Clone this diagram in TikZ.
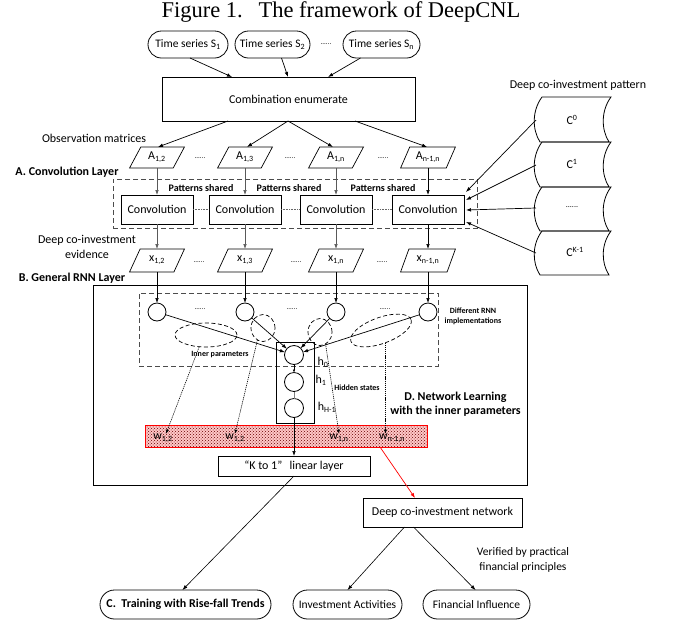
\documentclass[tikz,border=0pt]{standalone}
\usepackage{fontspec}
\setmainfont{Carlito}
\newfontfamily\titlefont{Liberation Serif}
\usetikzlibrary{arrows.meta,shapes.misc,shapes.geometric,patterns,calc}
\begin{document}
\begin{tikzpicture}[x=1pt,y=-1pt,
  every node/.style={inner sep=0pt, outer sep=0pt},
  txt/.style={font=\fontsize{12}{15}\selectfont},
  bx/.style={draw, line width=0.8pt, font=\fontsize{12}{14}\selectfont},
  pill/.style={draw, rounded rectangle, line width=0.8pt, minimum height=27pt, font=\fontsize{11.5}{13}\selectfont},
  para/.style={draw, trapezium, trapezium left angle=60, trapezium right angle=120, trapezium stretches=true, minimum width=55pt, minimum height=21pt, line width=0.7pt, font=\fontsize{12}{14}\selectfont},
  circ/.style={draw, circle, minimum size=18pt, line width=0.8pt},
  ell/.style={draw, ellipse, line width=0.7pt, dash pattern=on 4pt off 2.5pt},
  arr/.style={-{Latex[length=5pt,width=3.6pt]}, line width=0.7pt},
  garr/.style={arr, draw=black!65},
  darr/.style={-{Latex[length=4pt,width=3.2pt]}, line width=0.6pt, dash pattern=on 1.2pt off 0.9pt},
  dotsl/.style={font=\fontsize{7}{8}\selectfont},
  sbold/.style={font=\fontsize{8}{10}\selectfont\bfseries},
  mbold/.style={font=\fontsize{10}{12}\selectfont\bfseries},
  hd/.style={font=\fontsize{12}{14.5}\selectfont\bfseries},
  dbox/.style={draw=black!70, dash pattern=on 5pt off 3pt, line width=0.9pt},
  pattcell/.style={draw, line width=0.8pt},
]
\useasboundingbox (0,0) rectangle (678,622);

% title
\node (title) at (341,12) {\titlefont\fontsize{22.5}{24}\selectfont Figure 1.\hspace{0.7em}The framework of DeepCNL};

% time series
\node[pill, minimum width=80pt] (ts1) at (188,44.5) {Time series S\textsubscript{1}};
\node[pill, minimum width=75pt] (ts2) at (272.5,44.5) {Time series S\textsubscript{2}};
\node[pill, minimum width=77pt] (ts3) at (381.5,44.5) {Time series S\textsubscript{n}};
\node[dotsl] (tsd) at (326,44) {......};

% combination
\node[bx, minimum width=253pt, minimum height=44pt] (combo) at (288.5,99) {Combination enumerate};
\draw[arr] ([xshift=2pt]ts1.south) -- ([xshift=70pt]combo.north west);
\draw[arr] ([xshift=9pt]ts2.south) -- ([xshift=126pt]combo.north west);
\draw[arr] ([xshift=-21pt]ts3.south) -- ([xshift=166pt]combo.north west);

\node[txt] (obs) at (94,138) {Observation matrices};

% observation matrices
\node[para] (a1) at (157,157.5) {A\textsubscript{1,2}};
\node[para] (a2) at (245,157.5) {A\textsubscript{1,3}};
\node[para] (a3) at (336,157.5) {A\textsubscript{1,n}};
\node[para] (a4) at (428,157.5) {A\textsubscript{n-1,n}};
\node[dotsl] (ad1) at (200,158) {......};
\node[dotsl] (ad2) at (290,158) {......};
\node[dotsl] (ad3) at (383,158) {......};
\draw[arr] ([xshift=66pt]combo.south west) -- ($(a1.center |- a1.north)+(1,0)$);
\draw[arr] ([xshift=126pt]combo.south west) -- ($(a2.center |- a2.north)+(2,0)$);
\draw[arr] ([xshift=126pt]combo.south west) -- ($(a3.center |- a3.north)+(-3,0)$);
\draw[arr] ([xshift=193pt]combo.south west) -- ($(a4.center |- a4.north)+(-1,0)$);

% convolution layer
\node[hd] (lconv) at (67,172) {A. Convolution Layer};
\node[dbox, minimum width=364pt, minimum height=49pt] (convlayer) at (295,203.5) {};
\node[bx, minimum width=72pt, minimum height=29pt] (cv1) at (157,209.5) {Convolution};
\node[bx, minimum width=72pt, minimum height=29pt] (cv2) at (245,209.5) {Convolution};
\node[bx, minimum width=72pt, minimum height=29pt] (cv3) at (336,209.5) {Convolution};
\node[bx, minimum width=72pt, minimum height=29pt] (cv4) at (428,209.5) {Convolution};
\node[mbold] (ps1) at (201,188) {Patterns shared};
\node[mbold] (ps2) at (289,188) {Patterns shared};
\node[mbold] (ps3) at (383,188) {Patterns shared};
\draw[densely dotted, black!60, line width=0.6pt] (cv1.east) -- (cv2.west);
\draw[densely dotted, black!60, line width=0.6pt] (cv2.east) -- (cv3.west);
\draw[densely dotted, black!60, line width=0.6pt] (cv3.east) -- (cv4.west);
\draw[garr] (a1.center |- a1.south) -- (cv1.north);
\draw[garr] (a2.center |- a2.south) -- (cv2.north);
\draw[garr] (a3.center |- a3.south) -- (cv3.north);
\draw[arr] (a4.center |- a4.south) -- (cv4.north);

% evidence
\node[txt, align=center] (evid) at (87,246.5) {Deep co-investment\\evidence};
\node[para, minimum height=23pt] (x1) at (157,260.5) {x\textsubscript{1,2}};
\node[para, minimum height=23pt] (x2) at (245,260.5) {x\textsubscript{1,3}};
\node[para, minimum height=23pt] (x3) at (336,260.5) {x\textsubscript{1,n}};
\node[para, minimum height=23pt] (x4) at (428,260.5) {x\textsubscript{n-1,n}};
\node[dotsl] (xd1) at (199,262) {......};
\node[dotsl] (xd2) at (296,262) {......};
\node[dotsl] (xd3) at (382,262) {......};
\draw[garr] (cv1.south) -- (x1.center |- x1.north);
\draw[garr] (cv2.south) -- (x2.center |- x2.north);
\draw[garr] (cv3.south) -- (x3.center |- x3.north);
\draw[arr] (cv4.south) -- (x4.center |- x4.north);

% pattern
\node[txt] (lpat) at (578,85) {Deep co-investment pattern};
\foreach \ya/\yb in {97/142,142/187,187/231,231/275}{
  \pgfmathsetmacro\yc{\ya+0.3*(\yb-\ya)}
  \pgfmathsetmacro\yd{\ya+0.72*(\yb-\ya)}
  \draw[pattcell] (542,\ya) .. controls (532,\yc) and (532,\yd) .. (540,\yb) -- (609,\yb) .. controls (601,\yd) and (601,\yc) .. (611,\ya) -- cycle;
}
\node[txt] (cp0) at (572,120) {C\textsuperscript{0}};
\node[txt] (cp1) at (572,164) {C\textsuperscript{1}};
\node[dotsl, font=\fontsize{8}{9}\selectfont] (cpd) at (572,207) {......};
\node[txt] (cpk) at (575,252) {C\textsuperscript{K-1}};
\coordinate (pa0) at (536,120);
\coordinate (pa1) at (536,165);
\coordinate (pa2) at (536,208);
\coordinate (pa3) at (536,253);
\draw[arr] (pa0) -- ($(cv4.east)+(2,-17.5)$);
\draw[arr] (pa1) -- ($(cv4.east)+(2,-9.5)$);
\draw[arr] (pa2) -- ($(cv4.east)+(2,0.5)$);
\draw[arr] (pa3) -- ($(cv4.east)+(2,12.5)$);

% RNN layer
\node[hd] (lrnn) at (72,278) {B. General RNN Layer};
\node[draw, line width=0.9pt, minimum width=434pt, minimum height=200pt] (rnn) at (310,385) {};
\node[dbox, minimum width=299pt, minimum height=73pt] (rnnimpl) at (288.5,329.5) {};
\node[sbold, align=center] (ldiff) at (473,316.5) {Different RNN\\implementations};

\node[circ] (c1) at (157,312) {};
\node[circ] (c2) at (245,312) {};
\node[circ] (c3) at (336,312) {};
\node[circ] (c4) at (428,312) {};
\node[dotsl] (cd1) at (200,309) {......};
\node[dotsl] (cd2) at (292,309) {......};
\node[dotsl] (cd3) at (385,309) {......};
\draw[arr] (x1.center |- x1.south) -- (c1.north);
\draw[arr] (x2.center |- x2.south) -- (c2.north);
\draw[arr] (x3.center |- x3.south) -- (c3.north);
\draw[arr] (x4.center |- x4.south) -- (c4.north);

\node[ell, minimum width=62pt, minimum height=24pt] (e1) at (206,335) {};
\node[ell, minimum width=24pt, minimum height=27pt] (e2) at (263,328) {};
\node[ell, minimum width=24pt, minimum height=27pt] (e3) at (320,332) {};
\node[ell, minimum width=64pt, minimum height=26pt, rotate=20] (e4) at (381,330.5) {};
\node[sbold] (linner) at (220,355) {Inner parameters};

\node[draw, line width=0.9pt, minimum width=38pt, minimum height=81pt] (hbox) at (295,382.5) {};
\node[circ, minimum size=19pt] (h0) at (294,355) {};
\node[circ, minimum size=19pt] (h1) at (294,382) {};
\node[circ, minimum size=19pt] (hH) at (294,408) {};
\node[txt] (lh0) at (323,362) {h\textsubscript{0}};
\node[txt] (lh1) at (321,380) {h\textsubscript{1}};
\node[txt] (lhH) at (327,407) {h\textsubscript{H-1}};
\node[sbold] (lhid) at (357,388) {Hidden states};
\draw[-{Latex[length=3pt,width=2.5pt]}, line width=0.5pt] (h0) -- (h1);
\draw[black!50, line width=0.5pt] (h1) -- (hH);

\draw[arr] (c1) -- (h0);
\draw[arr] (c2) -- (h0);
\draw[arr] (c3) -- (h0);
\draw[arr] (c4) -- (h0);

\node[hd, align=center] (lnet) at (455.5,404) {D. Network Learning\\with the inner parameters};

% inner parameter band
\node[draw=red, line width=0.8pt, minimum width=282pt, minimum height=22pt, preaction={fill=red!22}, pattern=crosshatch dots, pattern color=red!40!black] (band) at (286,436) {};
\node[txt] (w1) at (163,438) {w\textsubscript{1,2}};
\node[txt] (w2) at (235,438) {w\textsubscript{1,2}};
\node[txt] (w3) at (339,438) {w\textsubscript{1,n}};
\node[txt] (w4) at (392,438) {w\textsubscript{n-1,n}};
\draw[darr] (e1.240) -- ($(w1.north)+(3,0)$);
\draw[darr] (e2.245) -- (w2.north);
\draw[darr] (e3.295) -- (w3.north);
\draw[darr] (e4.south) -- (e4.south |- w4.north);

% K to 1
\node[bx, minimum width=152pt, minimum height=20pt] (klin) at (294,466) {“K to 1”\hspace{0.6em}linear layer};
\draw[arr] (hH) -- (klin);

\node[bx, minimum width=159pt, minimum height=29pt] (dnet) at (442.5,512.5) {Deep co-investment network};
\draw[arr, red] ([xshift=-47pt]band.south east) -- ([xshift=52pt]dnet.north west);

% bottom
\node[pill, minimum width=171pt, minimum height=29pt, font=\fontsize{12}{14}\selectfont\bfseries] (train) at (185.5,604.5) {C.\ \ Training with Rise-fall Trends};
\node[pill, minimum width=109pt, minimum height=29pt] (inv) at (347.5,604.5) {Investment Activities};
\node[pill, minimum width=107pt, minimum height=29pt] (fin) at (476.5,604.5) {Financial Influence};
\node[font=\fontsize{11.5}{15}\selectfont, align=center] (verif) at (523,559.5) {Verified by practical\\financial principles};

\draw[arr, line width=0.6pt] (klin.south) -- ([xshift=-3pt]train.north);
\draw[arr, line width=0.6pt] ([xshift=-38pt]dnet.south) -- (inv.north);
\draw[arr, line width=0.6pt] ([xshift=-29pt]dnet.south) -- ([xshift=-1pt]fin.north);
\end{tikzpicture}
\end{document}
